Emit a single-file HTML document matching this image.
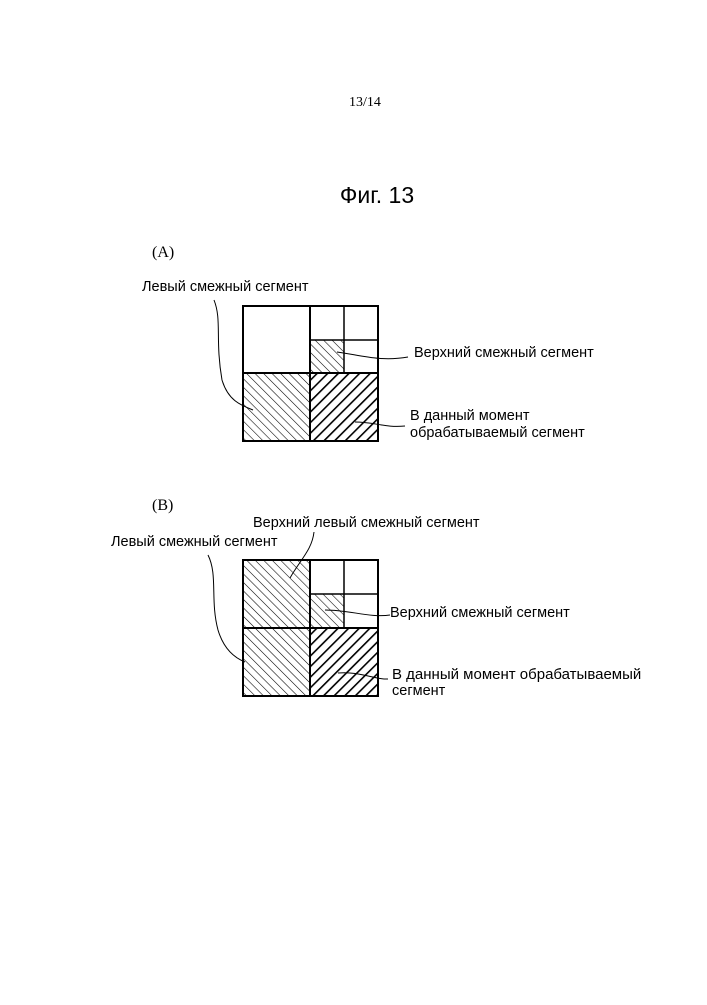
<!DOCTYPE html>
<html><head><meta charset="utf-8"><style>
body{margin:0;background:#fff}
</style></head><body>
<svg width="707" height="1000" xmlns="http://www.w3.org/2000/svg">
<defs>
<pattern id="thin" patternUnits="userSpaceOnUse" width="6" height="6" patternTransform="rotate(-45)">
<line x1="0" y1="0" x2="0" y2="6" stroke="#000" stroke-width="1.1"/>
</pattern>
<pattern id="thick" patternUnits="userSpaceOnUse" width="7.5" height="7.5" patternTransform="rotate(45)">
<line x1="0" y1="0" x2="0" y2="7.5" stroke="#000" stroke-width="3.2"/>
</pattern>
</defs>
<g font-family="Liberation Serif, serif" fill="#000">
<text x="365" y="106" font-size="14" text-anchor="middle">13/14</text>
<text x="152" y="257" font-size="16">(A)</text>
<text x="152" y="510" font-size="16">(B)</text>
</g>
<text x="377" y="203" font-size="23" text-anchor="middle" font-family="Liberation Sans, sans-serif">Фиг. 13</text>
<g font-family="Liberation Sans, sans-serif" font-size="14.5" fill="#000">
<text x="142" y="291">Левый смежный сегмент</text>
<text x="414" y="357">Верхний смежный сегмент</text>
<text x="410" y="420">В данный момент</text>
<text x="410" y="437">обрабатываемый сегмент</text>
<text x="253" y="527">Верхний левый смежный сегмент</text>
<text x="111" y="546">Левый смежный сегмент</text>
<text x="390" y="617">Верхний смежный сегмент</text>
<text x="392" y="679" font-size="15">В данный момент обрабатываемый</text>
<text x="392" y="695">сегмент</text>
</g>
<g stroke="#000" fill="none">
<rect x="243" y="373" width="67" height="68" fill="url(#thin)"/>
<rect x="310" y="373" width="68" height="68" fill="url(#thick)"/>
<rect x="310" y="340" width="34" height="33" fill="url(#thin)"/>
<rect x="243" y="306" width="135" height="135" stroke-width="2"/>
<line x1="310" y1="306" x2="310" y2="441" stroke-width="2"/>
<line x1="243" y1="373" x2="378" y2="373" stroke-width="2"/>
<line x1="344" y1="306" x2="344" y2="373" stroke-width="1.5"/>
<line x1="310" y1="340" x2="378" y2="340" stroke-width="1.5"/>
<path d="M214 300 C222 320 215 340 222 380 C228 400 240 405 253 410" stroke-width="1"/>
<path d="M337 352 C360 355 380 362 408 357" stroke-width="1"/>
<path d="M355 422 C375 422 385 428 405 426" stroke-width="1"/>
<rect x="243" y="560" width="67" height="136" fill="url(#thin)"/>
<rect x="310" y="628" width="68" height="68" fill="url(#thick)"/>
<rect x="310" y="594" width="34" height="34" fill="url(#thin)"/>
<rect x="243" y="560" width="135" height="136" stroke-width="2"/>
<line x1="310" y1="560" x2="310" y2="696" stroke-width="2"/>
<line x1="243" y1="628" x2="378" y2="628" stroke-width="2"/>
<line x1="344" y1="560" x2="344" y2="628" stroke-width="1.5"/>
<line x1="310" y1="594" x2="378" y2="594" stroke-width="1.5"/>
<path d="M314 532 C312 550 300 560 290 578" stroke-width="1"/>
<path d="M208 555 C218 575 210 600 218 630 C224 650 235 658 245 662" stroke-width="1"/>
<path d="M325 610 C350 610 370 618 390 615" stroke-width="1"/>
<path d="M338 673 C360 671 375 680 388 679" stroke-width="1"/>
</g>
</svg>
</body></html>
